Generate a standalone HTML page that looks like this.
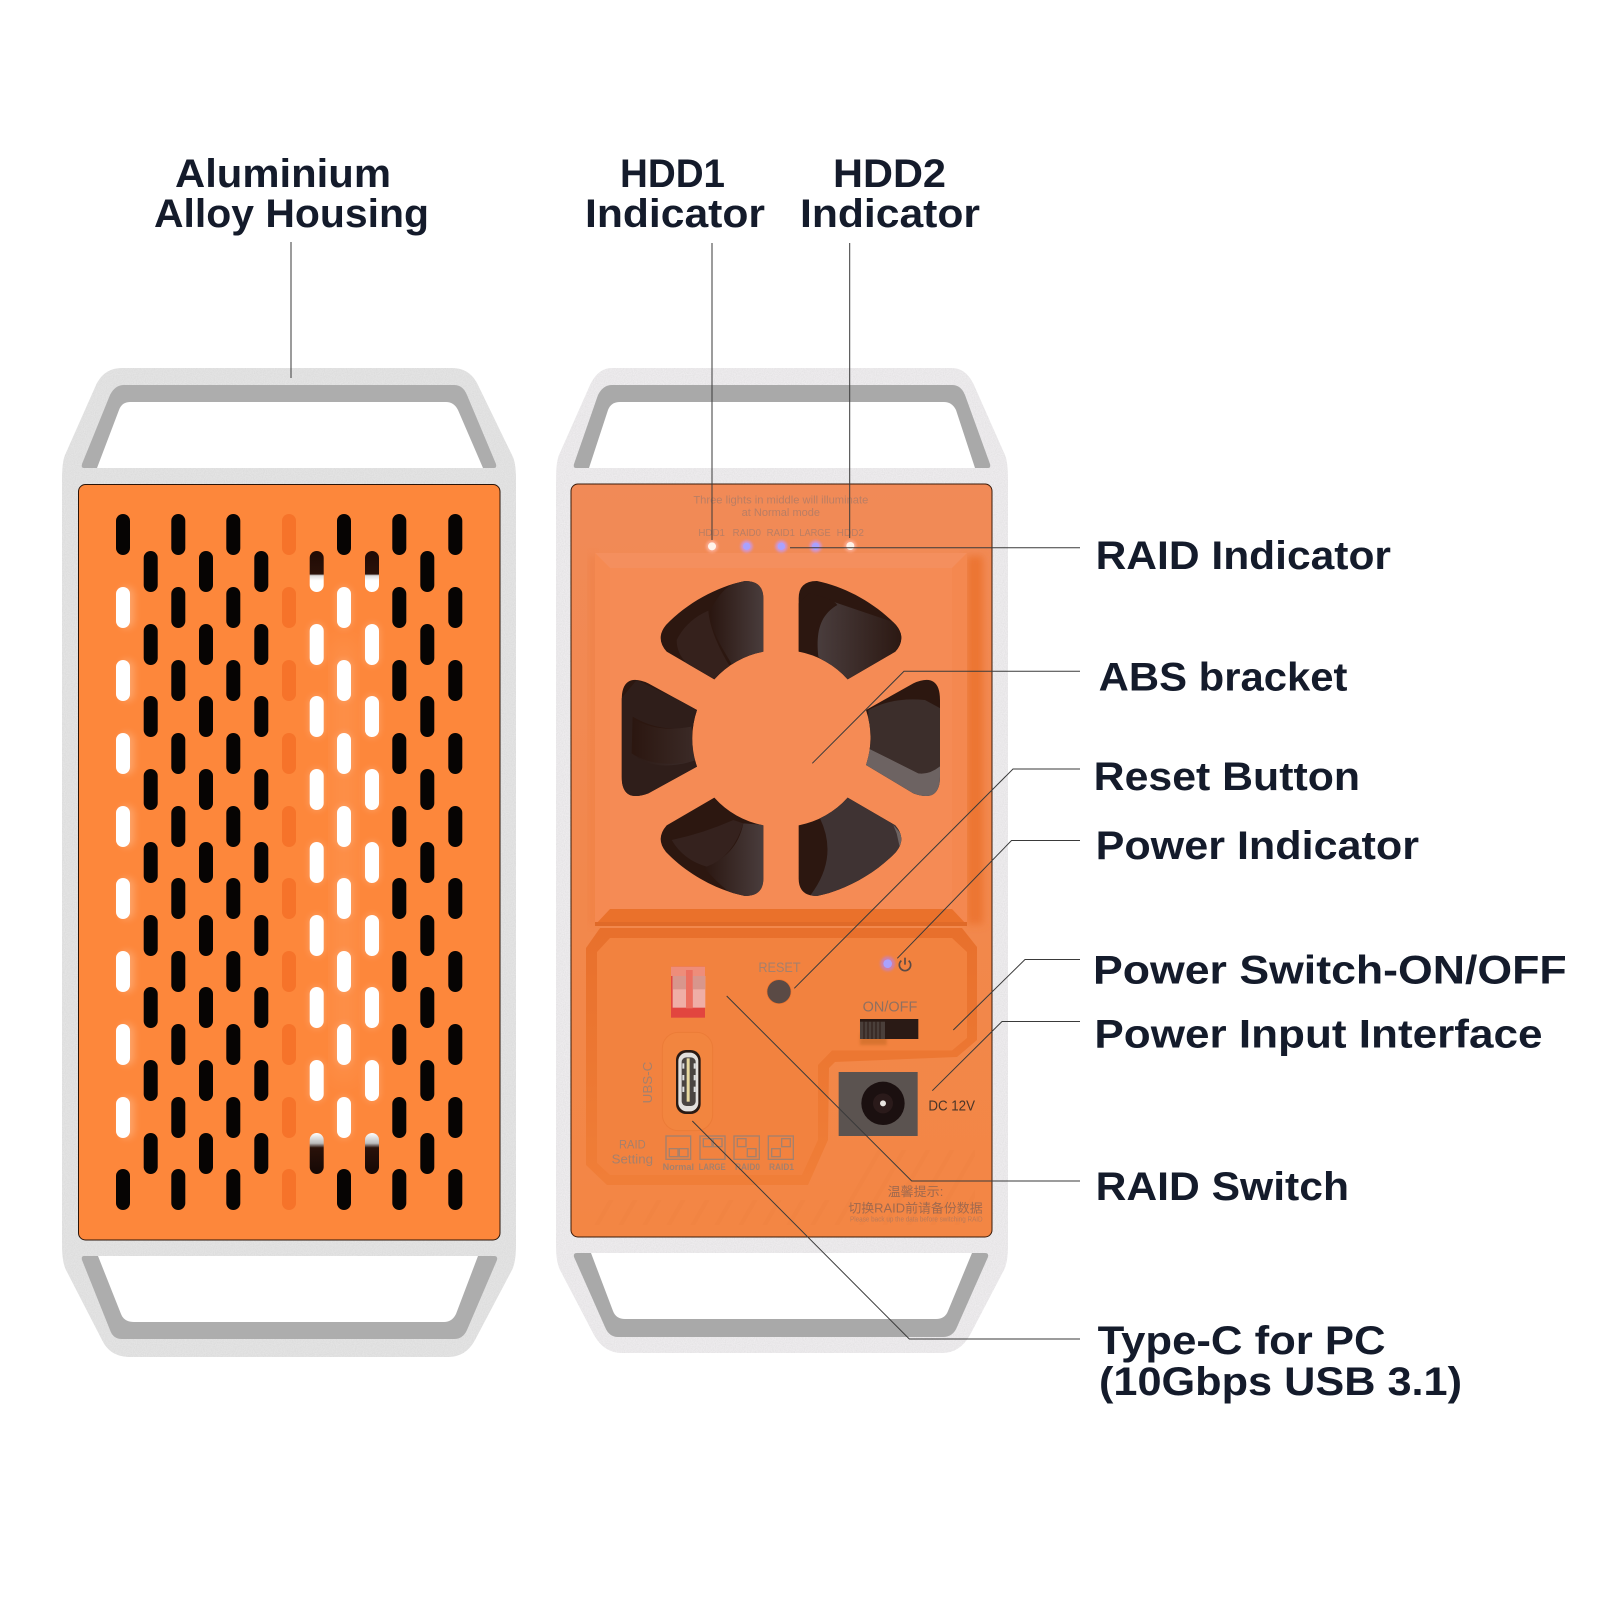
<!DOCTYPE html>
<html><head><meta charset="utf-8"><style>
html,body{margin:0;padding:0;background:#fff}
svg{display:block}
text{font-family:"Liberation Sans","Noto Sans CJK SC",sans-serif}
</style></head><body>
<svg width="1600" height="1600" viewBox="0 0 1600 1600" xmlns="http://www.w3.org/2000/svg">
<defs>
<rect id="s" x="-7" width="14" height="41" rx="7"/>
<g id="caM"><use href="#s" y="587"/><use href="#s" y="660"/><use href="#s" y="733"/><use href="#s" y="806"/><use href="#s" y="878"/><use href="#s" y="951"/><use href="#s" y="1024"/><use href="#s" y="1097"/></g>
<g id="caE"><use href="#s" y="514"/><use href="#s" y="1169"/></g>
<g id="cbM"><use href="#s" y="624"/><use href="#s" y="696"/><use href="#s" y="769"/><use href="#s" y="842"/><use href="#s" y="915"/><use href="#s" y="987"/><use href="#s" y="1060"/></g>
<g id="cbE"><use href="#s" y="551"/><use href="#s" y="1133"/></g>
<linearGradient id="h1" x1="0" y1="0" x2="0" y2="1"><stop offset="0" stop-color="#200a04"/><stop offset=".56" stop-color="#2a120a"/><stop offset=".6" stop-color="#ddd"/><stop offset=".72" stop-color="#fff"/></linearGradient>
<linearGradient id="h2" x1="0" y1="0" x2="0" y2="1"><stop offset="0" stop-color="#fff"/><stop offset=".25" stop-color="#bbb"/><stop offset=".36" stop-color="#2a120a"/><stop offset="1" stop-color="#150805"/></linearGradient>
<linearGradient id="bl" x1="0" y1="0" x2="1" y2="0"><stop offset="0" stop-color="#2a1610"/><stop offset="1" stop-color="#4b3f3f"/></linearGradient>
<linearGradient id="blR" x1="1" y1="0" x2="0" y2="0"><stop offset="0" stop-color="#2a1610"/><stop offset="1" stop-color="#4b3f3f"/></linearGradient>
<linearGradient id="pn" x1="0" y1="0" x2="0" y2="1"><stop offset="0" stop-color="#f18a57"/><stop offset="1" stop-color="#f38644"/></linearGradient>
<linearGradient id="rc" x1="0" y1="0" x2="0" y2="1"><stop offset="0" stop-color="#e8702c"/><stop offset="1" stop-color="#f07e38"/></linearGradient>
<pattern id="hatch" width="24" height="30" patternUnits="userSpaceOnUse" patternTransform="skewX(-30)"><line x1="8" y1="0" x2="8" y2="30" stroke="#e87a3a" stroke-width="5"/></pattern>
<filter id="b4" x="-50%" y="-50%" width="200%" height="200%"><feGaussianBlur stdDeviation="4"/></filter>
<filter id="b12" x="-50%" y="-50%" width="200%" height="200%"><feGaussianBlur stdDeviation="12"/></filter>
<filter id="noise" x="0" y="0" width="100%" height="100%"><feTurbulence type="fractalNoise" baseFrequency=".9" numOctaves="2" seed="4" result="n"/><feColorMatrix in="n" values="0 0 0 0 .55 0 0 0 0 .55 0 0 0 0 .55 0 0 0 .5 -.14" result="c"/><feComposite in="c" in2="SourceAlpha" operator="in" result="t"/><feMerge><feMergeNode in="SourceGraphic"/><feMergeNode in="t"/></feMerge></filter>
<clipPath id="fan"><path d="M463 628A262 262 0 0 1 610 545L610 385Q610 333 555 333C470 350 380 400 318 465Q285 505 320 545Z"/><path d="M863 628A262 262 0 0 0 716 545L716 385Q716 333 771 333C856 350 946 400 1008 465Q1041 505 1006 545Z"/><path d="M411 720L265 640Q185 605 185 690L185 920Q185 1000 265 970L411 890A262 262 0 0 1 411 720Z"/><path d="M918 720L1060 640Q1140 605 1140 690L1140 920Q1140 1000 1060 970L918 885A262 262 0 0 0 918 720Z"/><path d="M463 983A262 262 0 0 0 610 1066L610 1226Q610 1278 555 1278C470 1261 380 1211 318 1146Q285 1106 320 1066Z"/><path d="M863 983A262 262 0 0 1 716 1066L716 1226Q716 1278 771 1278C856 1261 946 1211 1008 1146Q1041 1106 1006 1066Z"/></clipPath>
</defs>

<!-- LEFT UNIT -->
<path filter="url(#noise)" d="M62 480Q62 462 65 455L96 385Q104 368 122 368L452 368Q470 368 478 385L512 455Q516 462 516 480L516 1245Q516 1262 512 1270L475 1340Q466 1357 448 1357L130 1357Q110 1357 102 1340L66 1270Q62 1262 62 1245Z" fill="#e4e4e4"/>
<path d="M84 468Q81 468 82 464L110 395Q115 385 124 385L454 385Q463 385 467 395L496 464Q497 468 494 468Z" fill="#adadad"/>
<path d="M97 468L119 410Q122 402 130 402L446 402Q454 402 458 410L483 468Z" fill="#fff"/>
<path d="M82 1260Q81 1256 84 1256L494 1256Q498 1256 497 1260L467 1330Q463 1339 454 1339L122 1339Q113 1339 110 1330Z" fill="#adadad"/>
<path d="M98 1256L478 1256L456 1314Q452 1322 444 1322L134 1322Q124 1322 121 1314Z" fill="#fff"/>
<rect x="78.5" y="484.5" width="421.5" height="755.5" rx="7" fill="#fd873b" stroke="#2a1408" stroke-width="1"/>
<g fill="#fff" opacity=".25" filter="url(#b4)"><use href="#caM" x="127"/><use href="#caM" x="344"/><use href="#cbM" x="316.7"/><use href="#cbM" x="372"/></g>
<rect x="336" y="640" width="16" height="440" fill="#fff" opacity=".12" filter="url(#b12)"/>
<g fill="#060403">
<use href="#caE" x="123"/><use href="#caE" x="178.3"/><use href="#caM" x="178.3"/><use href="#caE" x="233.3"/><use href="#caM" x="233.3"/><use href="#caE" x="344"/><use href="#caE" x="399.3"/><use href="#caM" x="399.3"/><use href="#caE" x="455.3"/><use href="#caM" x="455.3"/>
<use href="#cbE" x="150.7"/><use href="#cbM" x="150.7"/><use href="#cbE" x="206"/><use href="#cbM" x="206"/><use href="#cbE" x="261.3"/><use href="#cbM" x="261.3"/><use href="#cbE" x="427.3"/><use href="#cbM" x="427.3"/>
</g>
<g fill="#f6732a"><use href="#caE" x="289"/><use href="#caM" x="289"/></g>
<g fill="#fff"><use href="#caM" x="123"/><use href="#caM" x="344"/><use href="#cbM" x="316.7"/><use href="#cbM" x="372"/></g>
<rect x="309.7" y="551" width="14" height="41" rx="7" fill="url(#h1)"/>
<rect x="365" y="551" width="14" height="41" rx="7" fill="url(#h1)"/>
<rect x="309.7" y="1133" width="14" height="41" rx="7" fill="url(#h2)"/>
<rect x="365" y="1133" width="14" height="41" rx="7" fill="url(#h2)"/>

<!-- RIGHT UNIT -->
<path filter="url(#noise)" d="M556 480Q556 462 559 455L590 385Q598 368 612 368L952 368Q966 368 974 385L1005 455Q1008 462 1008 480L1008 1245Q1008 1262 1004 1270L970 1335Q960 1353 942 1353L622 1353Q604 1353 594 1335L560 1270Q556 1262 556 1245Z" fill="#eeecee"/>
<path d="M576 468Q573 468 574 464L598 395Q603 385 612 385L952 385Q961 385 965 395L990 464Q991 468 988 468Z" fill="#a9a9a9"/>
<path d="M589 468L608 410Q611 402 620 402L944 402Q952 402 956 410L975 468Z" fill="#fff"/>
<path d="M574 1257Q573 1253 577 1253L985 1253Q989 1253 988 1257L957 1327Q953 1337 943 1337L618 1337Q609 1337 605 1327Z" fill="#a9a9a9"/>
<path d="M591 1253L972 1253L948 1311Q945 1319 936 1319L625 1319Q616 1319 613 1311Z" fill="#fff"/>
<rect x="571" y="484" width="421" height="753" rx="7" fill="url(#pn)" stroke="#3a1a08" stroke-width="1"/>

<!-- bracket -->
<rect x="967" y="556" width="16" height="368" fill="#ec7430" filter="url(#b4)"/>
<rect x="590" y="556" width="6" height="368" fill="#ee7c3c" opacity=".6" filter="url(#b4)"/>
<rect x="595" y="553" width="372" height="372" fill="#f58b55"/>
<path d="M595 553L967 553L952 568L610 568Z" fill="#f48f5e"/>
<path d="M595 553L610 568L610 909L595 925Z" fill="#f58a52"/>
<path d="M967 553L952 568L952 909L967 925Z" fill="#f48850"/>
<path d="M595 925L610 909L952 909L967 925Z" fill="#ea712b"/>
<rect x="595" y="922" width="372" height="4" fill="#e06a28"/>

<g transform="translate(560 470) scale(.33333)">
<g clip-path="url(#fan)">
<rect x="150" y="300" width="1020" height="1000" fill="#2c1710"/>
<path d="M450 425C450 480 490 540 520 590L620 560L620 330L540 330C500 345 470 380 450 425Z" fill="url(#bl)"/>
<path d="M350 510Q380 450 445 422C450 480 480 540 510 590L463 640L380 580Q350 550 350 510Z" fill="#35211c"/>
<path d="M775 560C765 470 790 430 832 405L760 375L1040 470L1040 530L863 640Z" fill="url(#blR)"/>
<path d="M765 550C755 470 785 420 832 405Q820 385 745 370L716 400L716 545Z" fill="#2c1710"/>
<path d="M925 720Q1000 680 1095 690L1150 720L1150 885Q1110 915 1075 910L925 835Z" fill="#3c2e2b"/>
<path d="M925 835L1075 910Q1110 915 1145 885L1145 1000L1060 990L910 885Z" fill="#6d6362"/>
<path d="M180 690L230 630L420 720L400 770Q300 790 218 740L215 850Q290 900 420 870L420 900L260 990L180 1000Z" fill="#2f1e1a"/>
<path d="M218 745Q290 790 395 770L400 850L411 870Q300 905 235 865Q215 850 218 745Z" fill="url(#bl)" opacity=".5"/>
<path d="M550 1060L620 1065L620 1290L540 1290Q480 1250 430 1190Q530 1160 550 1060Z" fill="url(#bl)"/>
<path d="M335 1110Q430 1090 520 1050L550 1060Q520 1160 440 1190Q370 1170 335 1110Z" fill="#35221e"/>
<path d="M780 1045L863 975L1045 1065L1045 1130Q930 1230 790 1277L740 1290Q840 1170 780 1045Z" fill="#3f3333"/>
<path d="M1000 1065L1030 1100L1020 1135L1010 1090Z" fill="#6d6362"/>
</g>
</g>

<!-- lower recess -->
<path d="M600 928L962 928L977 947L977 1040L957 1057L835 1062L829 1068L828 1140L808 1185L607 1185L586 1165L586 948Z" fill="url(#rc)"/>
<path d="M610 938L952 938L967 952L967 1038L952 1050.5L832 1050.5L818 1065L818 1140L802 1175L610 1175L597 1163L597 952Z" fill="#f2823f"/>
<path d="M592 1200L830 1200L860 1150L975 1150L975 1225L592 1225Z" fill="url(#hatch)" opacity=".18"/>

<g transform="translate(560 920) scale(.33333)">
<!-- DIP -->
<rect x="333" y="140" width="102" height="153" fill="#e2453f"/>
<rect x="338" y="168" width="40" height="95" fill="#efaea6"/>
<rect x="398" y="168" width="38" height="95" fill="#efaea6"/>
<rect x="338" y="168" width="40" height="40" fill="#d8968c"/>
<rect x="398" y="168" width="38" height="40" fill="#d8968c"/>
<rect x="333" y="140" width="102" height="28" fill="#ee8d7a"/>
<rect x="378" y="150" width="20" height="115" fill="#ec6f60"/>
<!-- USB-C -->
<rect x="307" y="337" width="151" height="295" rx="48" fill="#f2853f" stroke="#ec7c38" stroke-width="3"/>
<rect x="348" y="390" width="74" height="192" rx="30" fill="#2a1a14"/>
<rect x="355" y="398" width="60" height="176" rx="25" fill="#e2dfdd"/>
<rect x="365" y="412" width="42" height="146" rx="14" fill="#4a4442"/>
<rect x="380" y="415" width="9" height="130" fill="#e8d9a0"/>
<rect x="367" y="430" width="6" height="16" fill="#ddd"/><rect x="367" y="465" width="6" height="16" fill="#ddd"/><rect x="367" y="500" width="6" height="16" fill="#ddd"/>
<rect x="401" y="430" width="6" height="16" fill="#ddd"/><rect x="401" y="465" width="6" height="16" fill="#ddd"/><rect x="401" y="500" width="6" height="16" fill="#ddd"/>
<!-- reset -->
<circle cx="657" cy="215" r="36" fill="#5a4a45" stroke="#e8702c" stroke-width="2"/>
<!-- power led -->
<circle cx="983" cy="131" r="22" fill="#b080ff" opacity=".55" filter="url(#b4)"/>
<circle cx="983" cy="131" r="13" fill="#a9a2ff"/>
<path d="M1024 122A17 17 0 1 0 1046 122" fill="none" stroke="#5b4a45" stroke-width="5"/>
<line x1="1035" y1="113" x2="1035" y2="134" stroke="#5b4a45" stroke-width="5"/>
<!-- switch -->
<rect x="900" y="340" width="80" height="35" fill="#c86a28" opacity=".6" filter="url(#b4)"/>
<rect x="900" y="297" width="175" height="60" fill="#2a1a15"/>
<rect x="900" y="305" width="75" height="52" fill="#4a3f3a"/>
<path d="M912 305V357M924 305V357M936 305V357M948 305V357M960 305V357" stroke="#2a1a15" stroke-width="3"/>
<!-- DC -->
<rect x="836" y="456" width="237" height="192" fill="#5b5350"/>
<circle cx="969" cy="550" r="65" fill="#1b1010"/>
<circle cx="969" cy="550" r="30" fill="#2a1a1a"/>
<circle cx="969" cy="550" r="9" fill="#e8e4e0"/>
<!-- raid icons -->
<g fill="none" stroke="#a5806c" stroke-width="4">
<rect x="318" y="648" width="74" height="70"/><rect x="328" y="686" width="26" height="24"/><rect x="358" y="686" width="26" height="24"/>
<rect x="420" y="648" width="75" height="70"/><rect x="430" y="656" width="26" height="24"/><rect x="460" y="656" width="26" height="24"/>
<rect x="522" y="648" width="76" height="70"/><rect x="532" y="656" width="26" height="24"/><rect x="562" y="686" width="26" height="24"/>
<rect x="625" y="648" width="75" height="70"/><rect x="635" y="686" width="26" height="24"/><rect x="665" y="656" width="26" height="24"/>
</g>
<g fill="#a5806c" font-size="27">
<text x="595" y="156" font-size="42" textLength="127" lengthAdjust="spacingAndGlyphs">RESET</text>
<text x="908" y="274" font-size="44" textLength="164" lengthAdjust="spacingAndGlyphs" fill="#8f7060">ON/OFF</text>
<text transform="translate(276 550) rotate(-90)" font-size="40" textLength="125" lengthAdjust="spacingAndGlyphs">UBS-C</text>
<text x="177" y="685" font-size="36" textLength="80" lengthAdjust="spacingAndGlyphs">RAID</text>
<text x="155" y="731" font-size="40" textLength="124" lengthAdjust="spacingAndGlyphs">Setting</text>
<text x="308" y="750" font-weight="bold" textLength="94" lengthAdjust="spacingAndGlyphs">Normal</text>
<text x="416" y="750" font-weight="bold" textLength="81" lengthAdjust="spacingAndGlyphs">LARGE</text>
<text x="525" y="750" font-weight="bold" textLength="75" lengthAdjust="spacingAndGlyphs">RAID0</text>
<text x="627" y="750" font-weight="bold" textLength="75" lengthAdjust="spacingAndGlyphs">RAID1</text>
<text x="983" y="828" font-size="38" textLength="167" lengthAdjust="spacingAndGlyphs" fill="#a0694e">温馨提示:</text>
<text x="865" y="878" font-size="38" textLength="403" lengthAdjust="spacingAndGlyphs" fill="#a0694e">切换RAID前请备份数据</text>
<text x="870" y="905" font-size="22" textLength="398" lengthAdjust="spacingAndGlyphs" fill="#bb7a58">Please back up the data before switching RAID</text>
</g>
<text x="1105" y="572" font-size="44" textLength="140" lengthAdjust="spacingAndGlyphs" fill="#4a3528">DC 12V</text>
</g>

<!-- top panel text + LEDs -->
<g transform="translate(560 470) scale(.33333)">
<g fill="#a87a68" opacity=".75">
<text x="400" y="100" font-size="34" textLength="525" lengthAdjust="spacingAndGlyphs">Three lights in middle will illuminate</text>
<text x="545" y="138" font-size="34" textLength="235" lengthAdjust="spacingAndGlyphs">at Normal mode</text>
<text x="415" y="198" font-size="30" textLength="80" lengthAdjust="spacingAndGlyphs">HDD1</text>
<text x="518" y="198" font-size="30" textLength="85" lengthAdjust="spacingAndGlyphs">RAID0</text>
<text x="620" y="198" font-size="30" textLength="85" lengthAdjust="spacingAndGlyphs">RAID1</text>
<text x="718" y="198" font-size="30" textLength="94" lengthAdjust="spacingAndGlyphs">LARGE</text>
<text x="830" y="198" font-size="30" textLength="82" lengthAdjust="spacingAndGlyphs">HDD2</text>
</g>
<g filter="url(#b4)" opacity=".7"><circle cx="456" cy="229" r="18" fill="#ffb8a8"/><circle cx="871" cy="228" r="18" fill="#ffb8a8"/><circle cx="560" cy="229" r="18" fill="#c49aff"/><circle cx="664" cy="229" r="18" fill="#c49aff"/><circle cx="767" cy="229" r="18" fill="#c49aff"/></g>
<circle cx="456" cy="229" r="12" fill="#fff3ea"/><circle cx="871" cy="228" r="12" fill="#fff3ea"/>
<circle cx="560" cy="229" r="11" fill="#a9a2ff"/><circle cx="664" cy="229" r="11" fill="#a9a2ff"/><circle cx="767" cy="229" r="11" fill="#a9a2ff"/>
</g>

<!-- connectors -->
<g fill="none" stroke="#3a3a3a" stroke-width="1">
<path d="M291 242V378"/>
<path d="M712 243V540"/>
<path d="M849.7 243V538"/>
<path d="M790 547.7H1080"/>
<path d="M812.3 763.3L904 671.3H1080"/>
<path d="M794.3 988.3L1013 769H1080"/>
<path d="M897.3 958.3L1011.5 840.5H1080"/>
<path d="M953.3 1030L1025 959.5H1080"/>
<path d="M932.3 1090.7L1002 1021.5H1080"/>
<path d="M726.7 996L911.7 1181H1080"/>
<path d="M692.3 1121L909.3 1339H1080"/>
</g>

<!-- labels -->
<g fill="#141b2b" font-weight="bold" font-size="40">
<text x="175" y="187" textLength="216" lengthAdjust="spacingAndGlyphs">Aluminium</text>
<text x="154" y="227" textLength="275" lengthAdjust="spacingAndGlyphs">Alloy Housing</text>
<text x="620" y="187" textLength="105" lengthAdjust="spacingAndGlyphs">HDD1</text>
<text x="585" y="227" textLength="180" lengthAdjust="spacingAndGlyphs">Indicator</text>
<text x="833" y="187" textLength="113" lengthAdjust="spacingAndGlyphs">HDD2</text>
<text x="800" y="227" textLength="180" lengthAdjust="spacingAndGlyphs">Indicator</text>
<text x="1095.6" y="569" textLength="295.4" lengthAdjust="spacingAndGlyphs">RAID Indicator</text>
<text x="1098.7" y="690.7" textLength="248.8" lengthAdjust="spacingAndGlyphs">ABS bracket</text>
<text x="1093.7" y="790" textLength="266.3" lengthAdjust="spacingAndGlyphs">Reset Button</text>
<text x="1095.6" y="859" textLength="323.4" lengthAdjust="spacingAndGlyphs">Power Indicator</text>
<text x="1093" y="983.6" textLength="473.6" lengthAdjust="spacingAndGlyphs">Power Switch-ON/OFF</text>
<text x="1094.4" y="1047.5" textLength="448.1" lengthAdjust="spacingAndGlyphs">Power Input Interface</text>
<text x="1095.6" y="1200" textLength="253.4" lengthAdjust="spacingAndGlyphs">RAID Switch</text>
<text x="1097.7" y="1354" textLength="287.9" lengthAdjust="spacingAndGlyphs">Type-C for PC</text>
<text x="1099" y="1395" textLength="363" lengthAdjust="spacingAndGlyphs">(10Gbps USB 3.1)</text>
</g>
</svg>
</body></html>
